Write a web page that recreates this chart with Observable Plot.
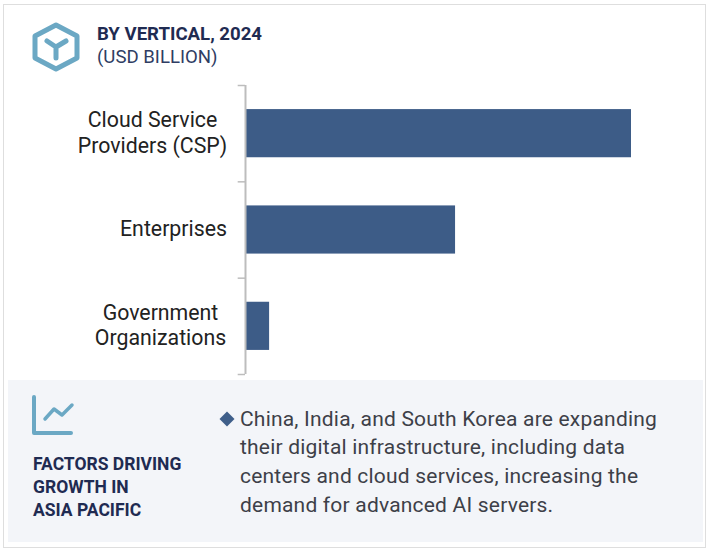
<!DOCTYPE html>
<html lang="en">
<head>
    <meta charset="UTF-8">
    <title>By Vertical, 2024</title>
    <style>
        body { margin: 0; background: #fff; font-family: Roboto, sans-serif; }
        #page { position: relative; width: 710px; height: 551px; overflow: hidden; }
        #card { position: absolute; left: 3px; top: 4px; width: 701px; height: 542px; border: 1px solid #dedede; }
        #head { position: absolute; left: 97px; top: 22.5px; font-size: 18.6px; line-height: 23px; color: #1f2b52; }
        #head b { display: block; font-weight: 700; }
        #head span { color: #2f3d63; }
        #chart { position: absolute; left: 0; top: 80px; }
        #panel { position: absolute; left: 8px; top: 380px; width: 695px; height: 162px; background: #f3f5f9; }
        #factors { position: absolute; left: 33px; top: 453px; font-size: 17.5px; line-height: 23px; font-weight: 700; color: #1f2b52; }
        #note { position: absolute; left: 240px; top: 404.6px; font-size: 21px; letter-spacing: 0.2px; line-height: 28.7px; color: #3d4048; white-space: nowrap; }
        .icon { position: absolute; left: 0; top: 0; }
    </style>
    <script src="https://cdn.jsdelivr.net/npm/d3@7"></script>
    <script src="https://cdn.jsdelivr.net/npm/@observablehq/plot@0.6"></script>
</head>
<body>
<div id="page">
    <div id="card"></div>
    <div id="panel"></div>
    <svg class="icon" width="710" height="551" fill="none" stroke-linecap="round" stroke-linejoin="round">
        <path d="M56 25L77 36V58L56 69L35 58V36Z" stroke="#6ba8c4" stroke-width="5"/>
        <path d="M47 41L56 47L66 41M56 47V58" stroke="#6ba8c4" stroke-width="5"/>
        <path d="M34 397V433H71" stroke="#6ba8c4" stroke-width="4"/>
        <path d="M45 419L54 409L62 415L72 405" stroke="#6ba8c4" stroke-width="3.5"/>
        <path d="M227 411.5L234.5 419L227 426.5L219.5 419Z" fill="#3f5f8a"/>
    </svg>
    <div id="head"><b>BY VERTICAL, 2024</b><span>(USD BILLION)</span></div>
    <div id="chart"></div>
    <div id="factors">FACTORS DRIVING<br>GROWTH IN<br>ASIA PACIFIC</div>
    <div id="note">China, India, and South Korea are expanding<br>their digital infrastructure, including data<br>centers and cloud services, increasing the<br>demand for advanced AI servers.</div>
</div>
<script>
    // Values, the largest bar taken as 100
    const categories = ["Cloud Service\nProviders (CSP)", "Enterprises", "Government\nOrganizations"];
    const values = [100, 54.3, 6];
    const bandEdges = [0, 1, 2, 3];

    // Labels are centered on their own block, so each one needs its own offset
    const labelOffsets = [-94, -73, -86];

    const rows = categories.map((name, i) => ({name, value: values[i], rank: i}));

    const plot = Plot.plot({
        width: 710,
        height: 298,
        marginLeft: 246,
        marginRight: 79,
        marginTop: 5,
        marginBottom: 4,
        style: {background: "transparent", fontFamily: "Roboto, sans-serif"},
        x: {domain: [0, 100], axis: null},
        y: {domain: [3, 0], axis: null},
        marks: [
            Plot.rect(rows, {
                x1: 0,
                x2: "value",
                y1: d => d.rank + 0.25,
                y2: d => d.rank + 0.75,
                fill: "#3d5c87"
            }),
            Plot.ruleX([0], {stroke: "#bdbdbd", strokeWidth: 2, dx: -1}),
            // short ticks sit on the band edges, left of the axis line
            Plot.ruleY(bandEdges, {y: d => d, x1: -1.9, x2: 0, stroke: "#bdbdbd", strokeWidth: 1.5, dx: -1}),
            ...rows.map((d, i) => Plot.text([d], {
                text: "name",
                y: r => r.rank + 0.5,
                frameAnchor: "left",
                textAnchor: "middle",
                dx: labelOffsets[i],
                dy: -2,
                lineHeight: 1.2,
                fontSize: 21.3,
                fill: "#222"
            }))
        ]
    });

    document.getElementById("chart").appendChild(plot);
</script>
</body>
</html>
